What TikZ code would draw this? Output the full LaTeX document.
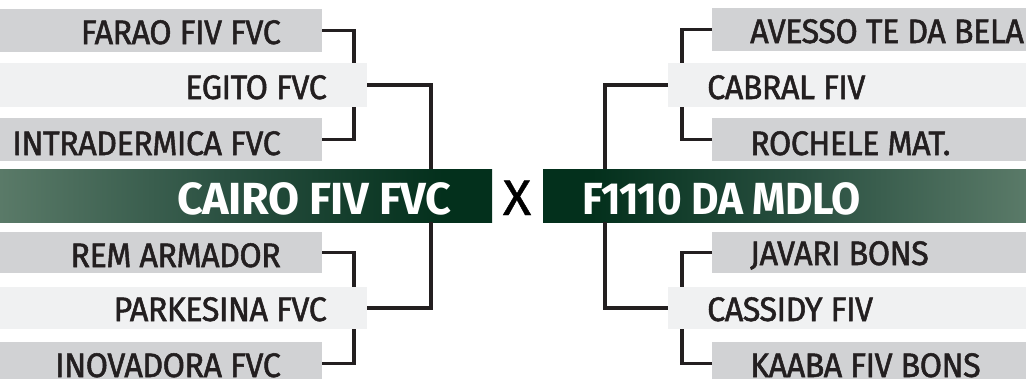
\documentclass[tikz,border=0pt]{standalone}
\usepackage{fontspec}
\setmainfont{Fira Sans}[FakeStretch=0.95, FakeBold=1.5, LetterSpace=-1.5]
\newfontfamily\bigfont{Fira Sans}[FakeStretch=1.0, LetterSpace=-1]
\newfontfamily\bigfontn{Fira Sans}[FakeStretch=0.94, LetterSpace=-1]
\newfontfamily\xfont{Fira Sans}[FakeStretch=1.05, FakeBold=0.8]
\usetikzlibrary{positioning}
\definecolor{boxgray}{HTML}{D1D2D4}
\definecolor{boxlight}{HTML}{F0F1F2}
\definecolor{ink}{HTML}{231F20}
\definecolor{gL}{HTML}{5A7A68}
\definecolor{gM}{HTML}{2A5041}
\definecolor{gD}{HTML}{03301C}
\pgfdeclarehorizontalshading{greenL}{100bp}{color(0bp)=(gL); color(25bp)=(gL); color(48bp)=(gM); color(70bp)=(gD); color(100bp)=(gD)}
\pgfdeclarehorizontalshading{greenR}{100bp}{color(0bp)=(gD); color(30bp)=(gD); color(52bp)=(gM); color(75bp)=(gL); color(100bp)=(gL)}
\tikzset{
  teambox/.style={fill=boxgray, draw=none, inner sep=0pt, anchor=north west},
  finbox/.style={fill=boxlight, draw=none, inner sep=0pt, anchor=north west},
  teamtxt/.style={inner sep=0pt, text=ink, font=\fontsize{34}{34}\selectfont},
  bigtxt/.style={inner sep=0pt, text=white, font=\bigfont\bfseries\fontsize{45}{45}\selectfont},
  bigtxtn/.style={inner sep=0pt, text=white, font=\bigfontn\bfseries\fontsize{45}{45}\selectfont},
  conn/.style={draw=ink, line width=3.5pt, line join=miter, line cap=butt},
}
\begin{document}
\begin{tikzpicture}[x=1pt,y=-1pt]
\useasboundingbox (0,0) rectangle (1026,378);
\clip (0,0) rectangle (1026,378);
% left boxes
\node[teambox, minimum width=322pt, minimum height=43pt] (farao) at (0,9) {};
\node[finbox,  minimum width=367pt, minimum height=44pt] (egito) at (0,63) {};
\node[teambox, minimum width=322pt, minimum height=43pt] (intra) at (0,118) {};
\node[teambox, minimum width=322pt, minimum height=41pt] (rem) at (0,232) {};
\node[finbox,  minimum width=367pt, minimum height=42pt] (park) at (0,287) {};
\node[teambox, minimum width=322pt, minimum height=43pt] (inov) at (0,342) {};
% right boxes
\node[teambox, minimum width=314pt, minimum height=43pt] (avesso) at (712,8) {};
\node[finbox,  minimum width=358pt, minimum height=44pt] (cabral) at (668,63) {};
\node[teambox, minimum width=314pt, minimum height=43pt] (rochele) at (712,118) {};
\node[teambox, minimum width=314pt, minimum height=41pt] (javari) at (712,232) {};
\node[finbox,  minimum width=358pt, minimum height=42pt] (cassidy) at (668,287) {};
\node[teambox, minimum width=314pt, minimum height=43pt] (kaaba) at (712,342) {};
% green bars
\node[shading=greenL, inner sep=0pt, anchor=north west, minimum width=492pt, minimum height=53pt] (cairo) at (0,169) {};
\node[shading=greenR, inner sep=0pt, anchor=north west, minimum width=483pt, minimum height=53pt] (f1110) at (543,169) {};
% texts
\node[teamtxt, anchor=base east] (faraot) at (281,44) {FARAO FIV FVC};
\node[teamtxt, anchor=base east] (egitot) at (327,99) {EGITO FVC};
\node[teamtxt, anchor=base east] (intrat) at (281,155) {INTRADERMICA FVC};
\node[teamtxt, anchor=base east] (remt) at (281,267) {REM ARMADOR};
\node[teamtxt, anchor=base east] (parkt) at (327,321) {PARKESINA FVC};
\node[teamtxt, anchor=base east] (inovt) at (281,377) {INOVADORA FVC};
\node[teamtxt, anchor=base west] (avessot) at (750,43) {AVESSO TE DA BELA};
\node[teamtxt, anchor=base west] (cabralt) at (707,99) {CABRAL FIV};
\node[teamtxt, anchor=base west] (rochelet) at (750,155) {ROCHELE MAT.};
\node[teamtxt, anchor=base west] (javarit) at (750,265) {JAVARI BONS};
\node[teamtxt, anchor=base west] (cassidyt) at (707,321) {CASSIDY FIV};
\node[teamtxt, anchor=base west] (kaabat) at (750,377) {KAABA FIV BONS};
\node[bigtxt, anchor=base east] (cairot) at (452,214) {CAIRO FIV FVC};
\node[bigtxtn, anchor=base west] (f1110t) at (582,214) {F1110 DA MDLO};
\node[inner sep=0pt, text=black, anchor=base, font=\xfont\fontsize{50}{50}\selectfont] (vs) at (517,215) {X};
% connectors left
\draw[conn] (farao.east) -| ([xshift=354pt]egito.north west);
\draw[conn] (intra.east) -| ([xshift=354pt]egito.south west);
\draw[conn] (egito.east) -| ([xshift=431pt]cairo.north west);
\draw[conn] ([xshift=431pt]cairo.south west) |- (park.east);
\draw[conn] (rem.east) -| ([xshift=354pt]park.north west);
\draw[conn] (inov.east) -| ([xshift=354pt]park.south west);
% connectors right
\draw[conn] (avesso.west) -| ([xshift=14pt]cabral.north west);
\draw[conn] (rochele.west) -| ([xshift=14pt]cabral.south west);
\draw[conn] (cabral.west) -| ([xshift=62pt]f1110.north west);
\draw[conn] ([xshift=62pt]f1110.south west) |- (cassidy.west);
\draw[conn] (javari.west) -| ([xshift=14pt]cassidy.north west);
\draw[conn] (kaaba.west) -| ([xshift=14pt]cassidy.south west);
\end{tikzpicture}
\end{document}
